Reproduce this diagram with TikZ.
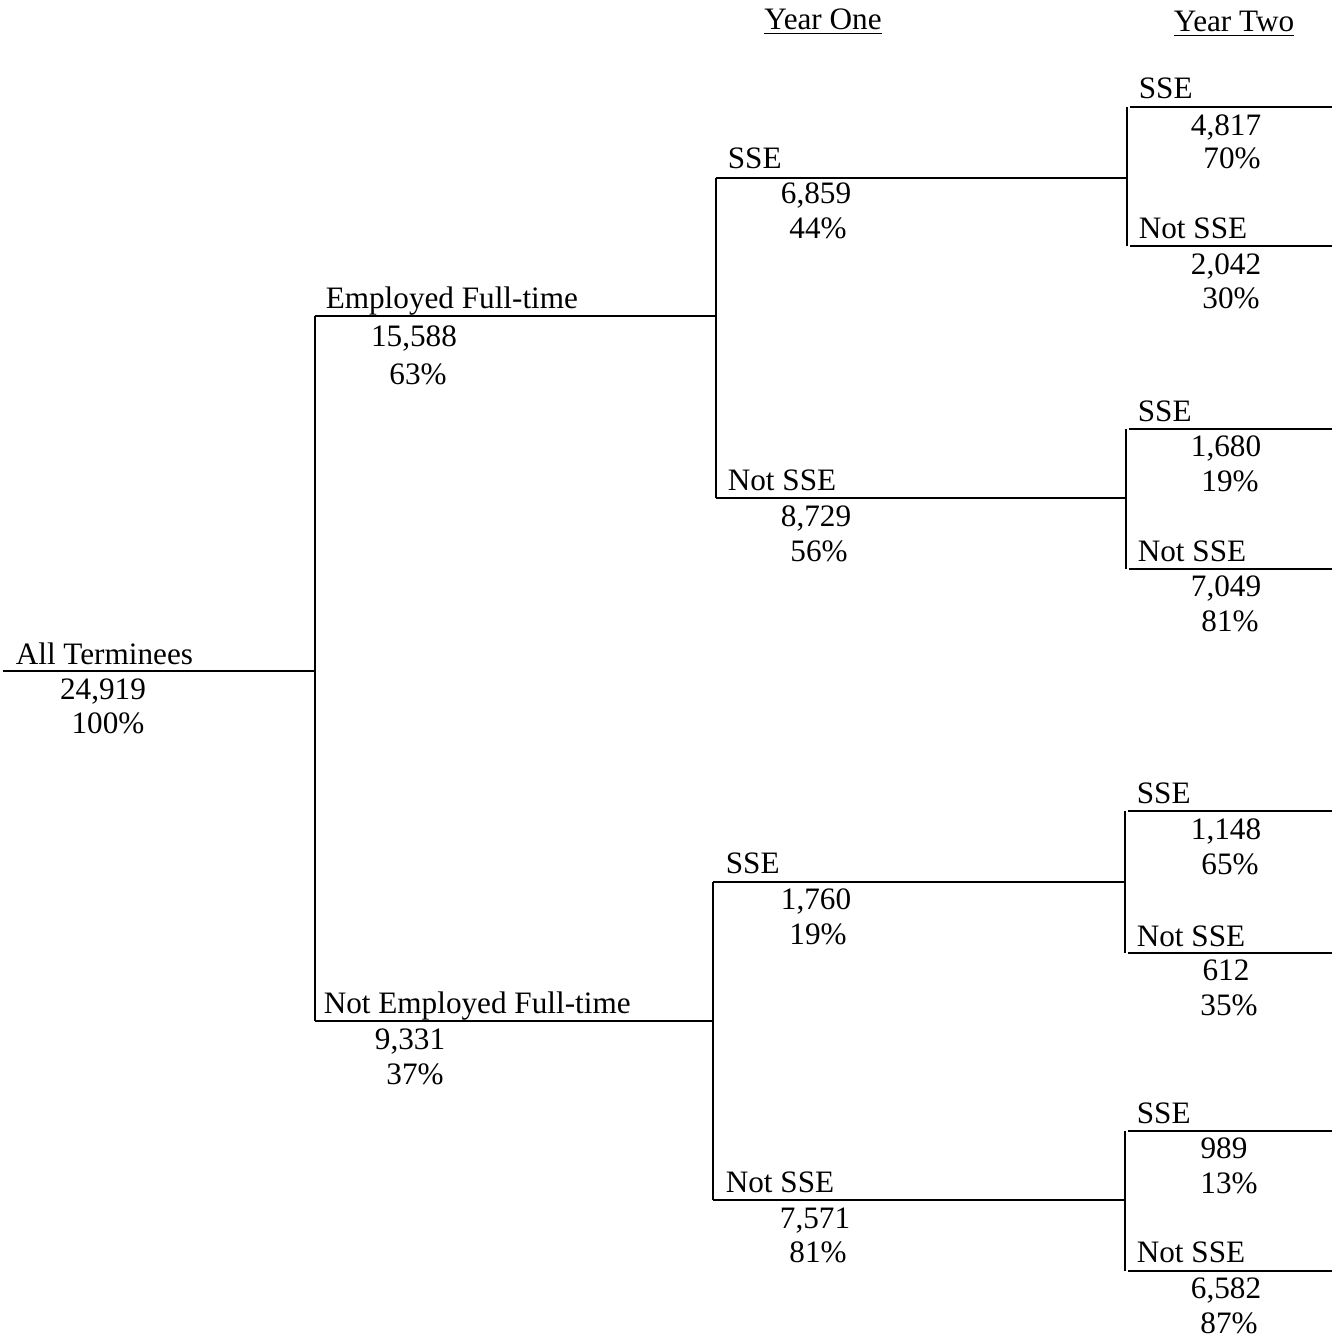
\documentclass[tikz,border=0pt]{standalone}
\usepackage{fontspec}
\setmainfont{Liberation Serif}
\usepackage{tikz}

\begin{document}
\begin{tikzpicture}[x=0.5pt, y=-0.5pt, line width=0.8pt,
  brtxt/.style={anchor=base west, inner sep=0pt, font=\fontsize{15.6}{18}\selectfont},
  numtxt/.style={anchor=base, inner sep=0pt, font=\fontsize{15.6}{18}\selectfont},
  headtxt/.style={anchor=base, inner sep=0pt, font=\fontsize{15.6}{18}\selectfont}]

% Page frame (pixel grid of the scan, y runs down)
\useasboundingbox (0,0) rectangle (1335,1337);

% Column headings
\node[headtxt] (head-one) at (823,30) {\underline{Year One}};
\node[headtxt] (head-two) at (1234,32) {\underline{Year Two}};

% Branch ends
\coordinate (root-w) at (3,671);
\coordinate (root-e) at (315,671);
\coordinate (ef-w) at (315,316);
\coordinate (ef-e) at (716,316);
\coordinate (nef-w) at (315,1021);
\coordinate (nef-e) at (713,1021);

% Year one
\coordinate (efs-w) at (716,178);
\coordinate (efs-e) at (1127,178);
\coordinate (efn-w) at (716,498);
\coordinate (efn-e) at (1126,498);
\coordinate (nefs-w) at (713,882);
\coordinate (nefs-e) at (1125,882);
\coordinate (nefn-w) at (713,1200);
\coordinate (nefn-e) at (1125,1200);

% Year two
\coordinate (efss-w) at (1130,107);
\coordinate (efss-e) at (1332,107);
\coordinate (efsn-w) at (1130,246);
\coordinate (efsn-e) at (1332,246);
\coordinate (efns-w) at (1129,429);
\coordinate (efns-e) at (1332,429);
\coordinate (efnn-w) at (1129,569);
\coordinate (efnn-e) at (1332,569);
\coordinate (nefss-w) at (1128,811);
\coordinate (nefss-e) at (1332,811);
\coordinate (nefsn-w) at (1128,953);
\coordinate (nefsn-e) at (1332,953);
\coordinate (nefns-w) at (1128,1131);
\coordinate (nefns-e) at (1332,1131);
\coordinate (nefnn-w) at (1128,1271);
\coordinate (nefnn-e) at (1332,1271);

% All terminees
\draw (root-w) -- (root-e);
\draw (ef-w) -- (nef-w);
\node[brtxt] (root-lbl) at (15,664) {All Terminees};
\node[numtxt] (root-n) at (103,699) {24,919};
\node[numtxt] (root-p) at (108,733) {100\%};

% Employed full-time
\draw (ef-w) -- (ef-e);
\draw (efs-w) -- (efn-w);
\node[brtxt] (ef-lbl) at (325,308) {Employed Full-time};
\node[numtxt] (ef-n) at (414,346) {15,588};
\node[numtxt] (ef-p) at (418,384) {63\%};

% Not employed full-time
\draw (nef-w) -- (nef-e);
\draw (nefs-w) -- (nefn-w);
\node[brtxt] (nef-lbl) at (323,1013) {Not Employed Full-time};
\node[numtxt] (nef-n) at (410,1049) {9,331};
\node[numtxt] (nef-p) at (415,1084) {37\%};

% Year one, employed
\draw (efs-w) -- (efs-e);
\draw (efs-e |- efss-w) -- (efs-e |- efsn-w);
\node[brtxt] (efs-lbl) at (727,169) {SSE};
\node[numtxt] (efs-n) at (816,204) {6,859};
\node[numtxt] (efs-p) at (818,239) {44\%};

\draw (efn-w) -- (efn-e);
\draw (efn-e |- efns-w) -- (efn-e |- efnn-w);
\node[brtxt] (efn-lbl) at (727,490) {Not SSE};
\node[numtxt] (efn-n) at (816,526) {8,729};
\node[numtxt] (efn-p) at (819,561) {56\%};

% Year one, not employed
\draw (nefs-w) -- (nefs-e);
\draw (nefs-e |- nefss-w) -- (nefs-e |- nefsn-w);
\node[brtxt] (nefs-lbl) at (725,873) {SSE};
\node[numtxt] (nefs-n) at (816,909) {1,760};
\node[numtxt] (nefs-p) at (818,944) {19\%};

\draw (nefn-w) -- (nefn-e);
\draw (nefn-e |- nefns-w) -- (nefn-e |- nefnn-w);
\node[brtxt] (nefn-lbl) at (725,1192) {Not SSE};
\node[numtxt] (nefn-n) at (815,1228) {7,571};
\node[numtxt] (nefn-p) at (818,1262) {81\%};

% Year two
\draw (efss-w) -- (efss-e);
\node[brtxt] (efss-lbl) at (1138,99) {SSE};
\node[numtxt] (efss-n) at (1226,136) {4,817};
\node[numtxt] (efss-p) at (1232,169) {70\%};

\draw (efsn-w) -- (efsn-e);
\node[brtxt] (efsn-lbl) at (1138,239) {Not SSE};
\node[numtxt] (efsn-n) at (1226,274) {2,042};
\node[numtxt] (efsn-p) at (1231,308) {30\%};

\draw (efns-w) -- (efns-e);
\node[brtxt] (efns-lbl) at (1137,421) {SSE};
\node[numtxt] (efns-n) at (1226,456) {1,680};
\node[numtxt] (efns-p) at (1230,491) {19\%};

\draw (efnn-w) -- (efnn-e);
\node[brtxt] (efnn-lbl) at (1137,561) {Not SSE};
\node[numtxt] (efnn-n) at (1226,596) {7,049};
\node[numtxt] (efnn-p) at (1230,631) {81\%};

\draw (nefss-w) -- (nefss-e);
\node[brtxt] (nefss-lbl) at (1136,803) {SSE};
\node[numtxt] (nefss-n) at (1226,839) {1,148};
\node[numtxt] (nefss-p) at (1230,874) {65\%};

\draw (nefsn-w) -- (nefsn-e);
\node[brtxt] (nefsn-lbl) at (1136,946) {Not SSE};
\node[numtxt] (nefsn-n) at (1226,980) {612};
\node[numtxt] (nefsn-p) at (1229,1015) {35\%};

\draw (nefns-w) -- (nefns-e);
\node[brtxt] (nefns-lbl) at (1136,1123) {SSE};
\node[numtxt] (nefns-n) at (1224,1158) {989};
\node[numtxt] (nefns-p) at (1229,1193) {13\%};

\draw (nefnn-w) -- (nefnn-e);
\node[brtxt] (nefnn-lbl) at (1136,1262) {Not SSE};
\node[numtxt] (nefnn-n) at (1226,1298) {6,582};
\node[numtxt] (nefnn-p) at (1229,1333) {87\%};

\end{tikzpicture}
\end{document}
